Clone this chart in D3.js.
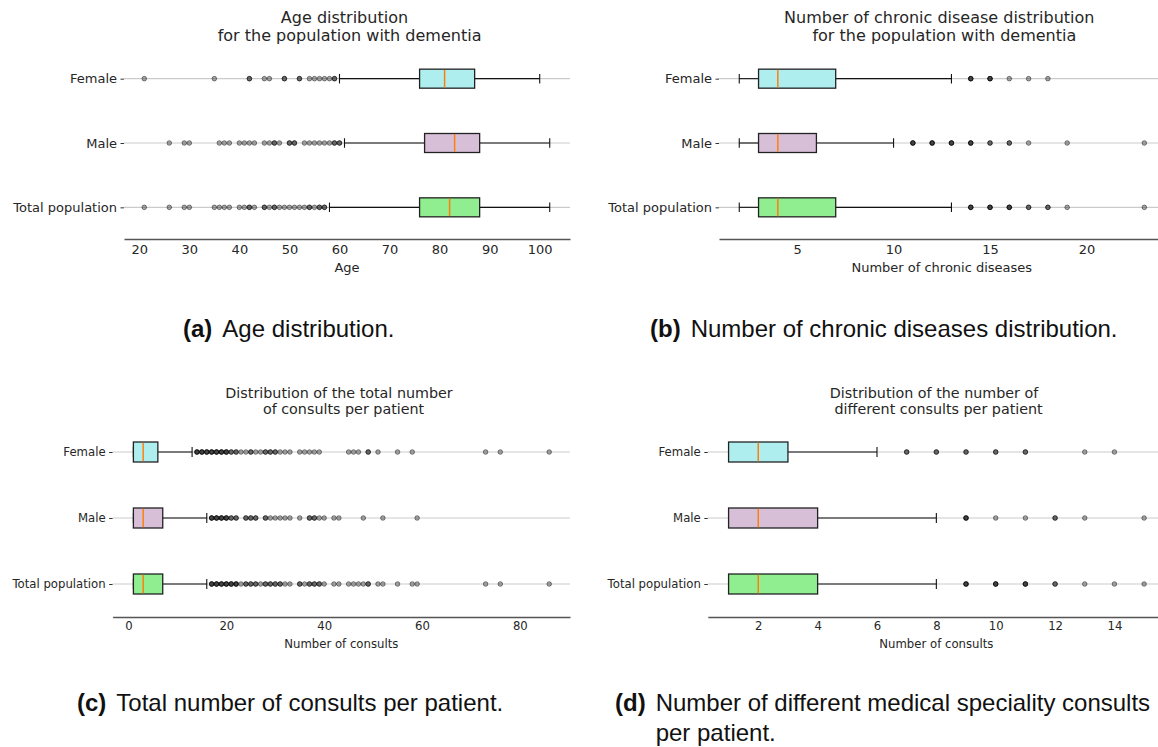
<!DOCTYPE html>
<html>
<head>
<meta charset="utf-8">
<script src="https://cdn.jsdelivr.net/npm/d3@7"></script>
<style>
  html, body { margin: 0; padding: 0; background: #fff; }
  svg { display: block; }
  .tick text { fill: #262626; }
  .title { white-space: pre; }
</style>
</head>
<body>
<svg id="fig" width="1158" height="747"></svg>
<script>
// ---- shared categories ----
const groups = ["Female", "Male", "Total population"];

// ---- (a) age ----
const ageTitle = ["Age distribution ", " for the population with dementia"];
const ageTicks = [20, 30, 40, 50, 60, 70, 80, 90, 100];
// [lower whisker, Q1, median, Q3, upper whisker]
const ageStats = [
  [60, 76, 81, 87, 100],
  [61, 77, 83, 88, 102],
  [58, 76, 82, 88, 102]
];
const ageOutliers = [
  [21, 35, 42, 42, 45, 46, 49, 49, 52, 52, 54, 55, 56, 57, 58, 59, 59],
  [26, 29, 30, 36, 37, 38, 40, 41, 42, 43, 45, 46, 47, 47, 48, 50, 50, 51, 51, 53, 54, 55, 56, 57, 58, 59, 59, 60, 60],
  [21, 26, 29, 30, 35, 36, 37, 38, 40, 41, 42, 42, 43, 45, 45, 46, 47, 47, 48, 49, 50, 51, 52, 53, 54, 54, 55, 56, 56, 57, 57]
];

// ---- (b) chronic diseases ----
const chronicTitle = ["Number of chronic disease distribution ", " for the population with dementia"];
const chronicTicks = [5, 10, 15, 20];
const chronicStats = [
  [2, 3, 4, 7, 13],
  [2, 3, 4, 6, 10],
  [2, 3, 4, 7, 13]
];
const chronicOutliers = [
  [14, 14, 14, 15, 15, 15, 16, 17, 18],
  [11, 11, 11, 12, 12, 12, 13, 13, 13, 14, 14, 14, 15, 15, 16, 16, 17, 19, 23],
  [14, 14, 14, 15, 15, 15, 16, 16, 16, 17, 17, 18, 18, 19, 23]
];

// ---- (c) total consults ----
const consultsTitle = ["Distribution of the total number ", " of consults per patient"];
const consultsTicks = [0, 20, 40, 60, 80];
const consultsStats = [
  [1, 1, 3, 6, 13],
  [1, 1, 3, 7, 16],
  [1, 1, 3, 7, 16]
];
const consultsOutliers = [
  [14, 14, 14, 15, 15, 15, 16, 16, 16, 17, 17, 17, 18, 18, 18, 19, 19, 19, 20, 20, 20, 21, 21, 22, 22,
   23, 24, 25, 25, 26, 27, 28, 28, 29, 29, 30, 30, 31, 32, 33, 35, 36, 37, 38, 39,
   45, 46, 47, 49, 49, 51, 55, 58, 73, 76, 86],
  [17, 17, 17, 18, 18, 18, 19, 19, 19, 20, 20, 20, 21, 21, 22, 22, 24, 24, 25, 25, 26, 26, 28, 28,
   29, 30, 31, 32, 33, 35, 37, 37, 38, 38, 39, 40, 42, 43, 48, 52, 59],
  [17, 17, 17, 18, 18, 18, 19, 19, 19, 20, 20, 20, 21, 21, 21, 22, 22, 22, 23, 24, 24, 25, 25, 26, 26,
   27, 28, 28, 29, 29, 30, 30, 31, 31, 32, 33, 35, 35, 36, 37, 37, 38, 38, 39, 39, 40,
   42, 43, 45, 46, 47, 48, 49, 49, 51, 52, 55, 58, 59, 73, 76, 86]
];

// ---- (d) different specialities ----
const specialtyTitle = ["Distribution of the number of ", " different consults per patient"];
const specialtyTicks = [2, 4, 6, 8, 10, 12, 14];
const specialtyStats = [
  [1, 1, 2, 3, 6],
  [1, 1, 2, 4, 8],
  [1, 1, 2, 4, 8]
];
const specialtyOutliers = [
  [7, 7, 8, 8, 9, 9, 10, 10, 11, 11, 13, 14],
  [9, 9, 9, 10, 11, 12, 12, 13, 15],
  [9, 9, 9, 10, 10, 10, 11, 11, 11, 12, 12, 13, 14, 15]
];

// ---- drawing ----
const svg = d3.select("#fig");
svg.append("rect").attr("width", 1158).attr("height", 747).attr("fill", "#fff");

const fills = ["#afeeee", "#d8bfd8", "#90ee90"];
const FONT = "DejaVu Sans, sans-serif";

function boxPanel(p) {
  const g = svg.append("g");
  const x = d3.scaleLinear().domain(p.domain).range([p.x0, p.x1]);
  const y = d3.scalePoint().domain(groups).range([p.y0, p.y1]).padding(0.5);
  const bh = p.boxH;

  // horizontal grid at each category
  g.append("g").selectAll("line").data(groups).join("line")
    .attr("x1", p.x0).attr("x2", p.x1)
    .attr("y1", d => y(d)).attr("y2", d => y(d))
    .attr("stroke", "#cbcbcb").attr("stroke-width", 1.2);

  // category axis
  const ya = g.append("g").attr("transform", `translate(${p.x0},0)`)
    .call(d3.axisLeft(y).tickSize(3.5).tickPadding(3.5));
  ya.select(".domain").remove();
  ya.selectAll(".tick line").attr("stroke", "#333");
  ya.selectAll(".tick text").attr("font-family", FONT).attr("font-size", p.labelSize);

  // value axis
  const xa = g.append("g").attr("transform", `translate(0,${p.axisY})`)
    .call(d3.axisBottom(x).tickValues(p.ticks).tickSize(0).tickSizeOuter(0).tickPadding(p.tickPad));
  xa.select(".domain").attr("stroke", "#555").attr("stroke-width", 1.3);
  xa.selectAll(".tick text").attr("font-family", FONT).attr("font-size", p.labelSize);

  g.append("text")
    .attr("x", (p.x0 + p.x1) / 2).attr("y", p.xLabelY)
    .attr("text-anchor", "middle").attr("font-family", FONT)
    .attr("font-size", p.labelSize).attr("fill", "#262626")
    .text(p.xLabel);

  // two-line title
  const t = g.append("text").attr("class", "title").attr("text-anchor", "middle")
    .attr("font-family", FONT).attr("font-size", p.titleSize).attr("fill", "#262626");
  p.title.forEach((line, i) => {
    t.append("tspan").attr("x", (p.x0 + p.x1) / 2)
      .attr("y", p.titleY + i * p.titleSize * 1.15).text(line);
  });

  groups.forEach((name, i) => {
    const [lo, q1, med, q3, hi] = p.stats[i];
    const cy = y(name);
    const b = g.append("g");
    // whiskers
    b.append("line").attr("x1", x(lo)).attr("x2", x(q1)).attr("y1", cy).attr("y2", cy)
      .attr("stroke", "#111").attr("stroke-width", 1.1);
    b.append("line").attr("x1", x(q3)).attr("x2", x(hi)).attr("y1", cy).attr("y2", cy)
      .attr("stroke", "#111").attr("stroke-width", 1.1);
    // caps
    [lo, hi].forEach(v => {
      b.append("line").attr("x1", x(v)).attr("x2", x(v))
        .attr("y1", cy - bh / 4).attr("y2", cy + bh / 4)
        .attr("stroke", "#111").attr("stroke-width", 1.1);
    });
    // box
    b.append("rect").attr("x", x(q1)).attr("y", cy - bh / 2)
      .attr("width", x(q3) - x(q1)).attr("height", bh)
      .attr("fill", fills[i]).attr("stroke", "#222").attr("stroke-width", 1.3);
    // median
    b.append("line").attr("x1", x(med)).attr("x2", x(med))
      .attr("y1", cy - bh / 2 + 0.7).attr("y2", cy + bh / 2 - 0.7)
      .attr("stroke", "#ff7f0e").attr("stroke-width", 1.5);
    // outliers
    b.append("g").selectAll("circle").data(p.outliers[i]).join("circle")
      .attr("cx", d => x(d)).attr("cy", cy).attr("r", 2.3)
      .attr("fill", "rgba(0,0,0,0.33)")
      .attr("stroke", "rgba(0,0,0,0.5)").attr("stroke-width", 0.9);
  });
}

boxPanel({
  title: ageTitle, titleY: 23, titleSize: 16,
  domain: [16.95, 106.05], x0: 124, x1: 570,
  y0: 46.5, y1: 239.5, axisY: 239, boxH: 19,
  ticks: ageTicks, tickPad: 6, labelSize: 13,
  xLabel: "Age", xLabelY: 272,
  stats: ageStats, outliers: ageOutliers
});

boxPanel({
  title: chronicTitle, titleY: 23, titleSize: 16,
  domain: [0.95, 24.05], x0: 719, x1: 1164.6,
  y0: 46.5, y1: 239.5, axisY: 239, boxH: 19,
  ticks: chronicTicks, tickPad: 6, labelSize: 13,
  xLabel: "Number of chronic diseases", xLabelY: 272,
  stats: chronicStats, outliers: chronicOutliers
});

boxPanel({
  title: consultsTitle, titleY: 397.5, titleSize: 14.3,
  domain: [-3.25, 90.25], x0: 112.6, x1: 570,
  y0: 419, y1: 617, axisY: 617, boxH: 20,
  ticks: consultsTicks, tickPad: 5, labelSize: 11.7,
  xLabel: "Number of consults", xLabelY: 648,
  stats: consultsStats, outliers: consultsOutliers
});

boxPanel({
  title: specialtyTitle, titleY: 397.5, titleSize: 14.3,
  domain: [0.3, 15.7], x0: 707.8, x1: 1164.9,
  y0: 419, y1: 617, axisY: 617, boxH: 20,
  ticks: specialtyTicks, tickPad: 5, labelSize: 11.7,
  xLabel: "Number of consults", xLabelY: 648,
  stats: specialtyStats, outliers: specialtyOutliers
});

// ---- sub-figure captions ----
const captions = [
  { tag: "(a)", lines: ["Age distribution."], x: 183, y: 337 },
  { tag: "(b)", lines: ["Number of chronic diseases distribution."], x: 650, y: 337 },
  { tag: "(c)", lines: ["Total number of consults per patient."], x: 77, y: 711 },
  { tag: "(d)", lines: ["Number of different medical speciality consults", "per patient."], x: 615, y: 711 }
];
const CAP_SIZE = 24;
captions.forEach(c => {
  const t = svg.append("text").attr("font-family", "Liberation Sans, Arial, sans-serif")
    .attr("font-size", CAP_SIZE).attr("fill", "#111");
  t.append("tspan").attr("x", c.x).attr("y", c.y).attr("font-weight", "bold").text(c.tag);
  t.append("tspan").attr("dx", 10).text(c.lines[0]);
  const tagW = t.select("tspan").node().getComputedTextLength();
  c.lines.slice(1).forEach((ln, i) => {
    svg.append("text").attr("font-family", "Liberation Sans, Arial, sans-serif")
      .attr("font-size", CAP_SIZE).attr("fill", "#111")
      .attr("x", c.x + tagW + 10).attr("y", c.y + 30 * (i + 1)).text(ln);
  });
});
</script>
</body>
</html>
